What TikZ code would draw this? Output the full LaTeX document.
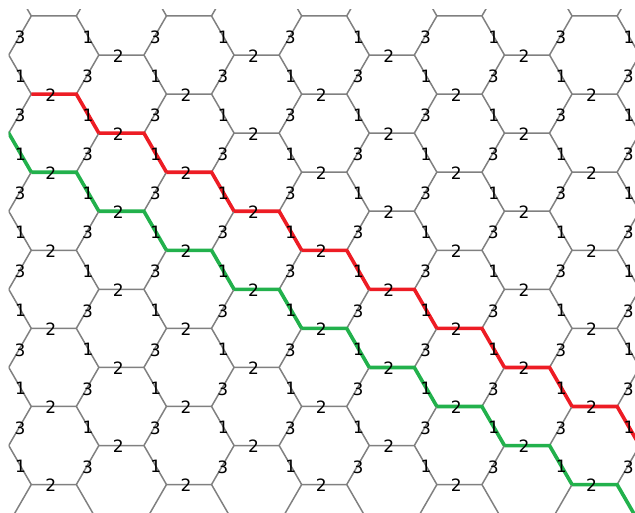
\documentclass[tikz,border=0pt]{standalone}
\usepackage{fontspec}
\setmainfont{DejaVu Sans}
\definecolor{gridgray}{RGB}{128,128,128}
\definecolor{pathred}{RGB}{237,28,36}
\definecolor{pathgreen}{RGB}{34,177,76}
\tikzset{
  gridline/.style={draw=gridgray, line width=1.5pt},
  redpath/.style={draw=pathred, line width=3.6pt},
  greenpath/.style={draw=pathgreen, line width=3.6pt},
  lbl/.style={inner sep=0pt, font=\fontsize{17}{20}\selectfont, text=black},
}
\begin{document}
\begin{tikzpicture}[x=1pt,y=-1pt]
\def\s{45.07}\def\hh{39.05}\def\dx{67.6}\def\dy{78.1}\def\Xo{53.8}\def\Yo{55}
\useasboundingbox (0,0) rectangle (635,512);
\begin{scope}
\clip (8.5,9) rectangle (635,512);
% lattice
\foreach \k in {-1,...,9}{
  \foreach \j in {-1,...,7}{
    \pgfmathsetmacro\cx{\Xo+\k*\dx}
    \pgfmathsetmacro\cy{\Yo+\j*\dy-mod(abs(\k),2)*\hh}
    \draw[gridline] (\cx-\s,\cy) -- (\cx-\s/2,\cy-\hh) -- (\cx+\s/2,\cy-\hh) -- (\cx+\s,\cy);
  }
}
% red path
\foreach \i in {0,...,8}{
  \pgfmathsetmacro\cx{\Xo+\i*\dx}
  \pgfmathsetmacro\cy{133.15+\i*\hh}
  \draw[redpath] (\cx-\s/2,\cy-\hh) -- (\cx+\s/2,\cy-\hh) -- (\cx+\s,\cy);
}
% green path
\foreach \i in {-1,...,8}{
  \pgfmathsetmacro\cx{\Xo+\i*\dx}
  \pgfmathsetmacro\cy{211.25+\i*\hh}
  \draw[greenpath] (\cx-\s/2,\cy-\hh) -- (\cx+\s/2,\cy-\hh) -- (\cx+\s,\cy);
}
% labels
\foreach \k in {-1,...,9}{
  \foreach \j in {-1,...,7}{
    \pgfmathsetmacro\cx{\Xo+\k*\dx}
    \pgfmathsetmacro\cy{\Yo+\j*\dy-mod(abs(\k),2)*\hh}
    \pgfmathtruncatemacro\showh{and(and(\cy-\hh>20,\cy-\hh<512),\cx>5)}
    \pgfmathtruncatemacro\showa{and(and(\cy-\hh>0,\cy<512),\cx-0.75*\s>5)}
    \pgfmathtruncatemacro\showb{and(\cy-\hh>0,\cy<512)}
    \ifnum\showh=1
      \node[lbl] (h\k_\j) at (\cx-3,\cy-\hh+1) {2};
    \fi
    \ifnum\showa=1
      \node[lbl] (a\k_\j) at (\cx-0.75*\s,\cy-0.5*\hh+2) {3};
    \fi
    \ifnum\showb=1
      \node[lbl] (b\k_\j) at (\cx+0.75*\s+0.5,\cy-0.5*\hh+1.5) {1};
    \fi
  }
}
\end{scope}
\end{tikzpicture}
\end{document}
